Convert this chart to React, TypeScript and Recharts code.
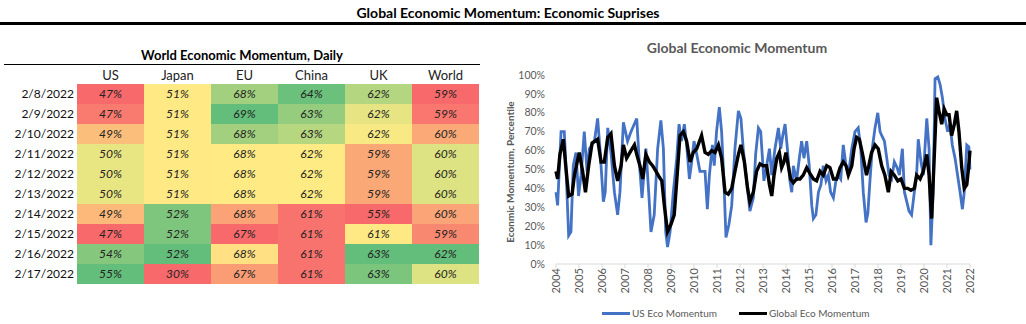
import React from 'react';
import { LineChart, Line, XAxis, YAxis } from 'recharts';

const FONT = "Lato, 'Open Sans', sans-serif";

const pageTitle = 'Global Economic Momentum: Economic Suprises';
const tableTitle = 'World Economic Momentum, Daily';
const chartTitle = 'Global Economic Momentum';
const yAxisTitle = 'Econmic Momentum, Percentile';

const columns = ['US', 'Japan', 'EU', 'China', 'UK', 'World'];
const dates = ['2/8/2022', '2/9/2022', '2/10/2022', '2/11/2022', '2/12/2022', '2/13/2022', '2/14/2022', '2/15/2022', '2/16/2022', '2/17/2022'];
const usCol = [47, 47, 49, 50, 50, 50, 49, 47, 54, 55];
const japanCol = [51, 51, 51, 51, 51, 51, 52, 52, 52, 30];
const euCol = [68, 69, 68, 68, 68, 68, 68, 67, 68, 67];
const chinaCol = [64, 63, 63, 62, 62, 62, 61, 61, 61, 61];
const ukCol = [62, 62, 62, 59, 59, 59, 55, 61, 63, 63];
const worldCol = [59, 59, 60, 60, 60, 60, 60, 59, 62, 60];
const tableCols = [usCol, japanCol, euCol, chinaCol, ukCol, worldCol];

// heat-map fill per cell (style), row by row
const cellColors = [
  ['#F8696B', '#FFE984', '#A2D07F', '#6BC17C', '#B5D680', '#F8696B'],
  ['#F97A6F', '#FFE984', '#63BE7B', '#95CC7E', '#E6E483', '#F9776E'],
  ['#FCBF7B', '#FFE984', '#A2D07F', '#B6D680', '#F8E984', '#FBAA77'],
  ['#E8E583', '#FFE984', '#FFEA84', '#FFEB84', '#FBA877', '#DDE283'],
  ['#E8E583', '#FFE984', '#FFEA84', '#FFEB84', '#FBA877', '#DDE283'],
  ['#E8E583', '#FFE984', '#FFEA84', '#FFEB84', '#FBA877', '#DDE283'],
  ['#FCB97A', '#7EC67D', '#FBA276', '#F8736D', '#F8696B', '#FBA477'],
  ['#F8696B', '#7EC67D', '#F8696B', '#F8736D', '#FFE984', '#F98870'],
  ['#85C87D', '#63BE7B', '#FFE083', '#F8736D', '#63BE7B', '#63BE7B'],
  ['#63BE7B', '#F8696B', '#FA9D75', '#F8736D', '#7CC57D', '#DDE283'],
];

const yearTicks = [2004, 2005, 2006, 2007, 2008, 2009, 2010, 2011, 2012, 2013, 2014, 2015, 2016, 2017, 2018, 2019, 2020, 2021, 2022];
const pctTicks = [0, 10, 20, 30, 40, 50, 60, 70, 80, 90, 100];

const usDates = [
  2004.0, 2004.07, 2004.22, 2004.36, 2004.43, 2004.55, 2004.65, 2004.75, 2004.87, 2004.98,
  2005.09, 2005.23, 2005.35, 2005.45, 2005.67, 2005.81, 2005.91, 2006.06, 2006.14, 2006.25,
  2006.39, 2006.54, 2006.68, 2006.78, 2006.93, 2007.11, 2007.26, 2007.51, 2007.62, 2007.74,
  2007.91, 2008.03, 2008.13, 2008.27, 2008.42, 2008.56, 2008.67, 2008.77, 2008.85, 2008.96,
  2009.1, 2009.25, 2009.35, 2009.46, 2009.58, 2009.68, 2009.8, 2009.9, 2010.0, 2010.12,
  2010.26, 2010.48, 2010.58, 2010.67, 2010.8, 2010.88, 2010.98, 2011.1, 2011.2, 2011.3,
  2011.39, 2011.52, 2011.64, 2011.78, 2011.93, 2012.04, 2012.14, 2012.29, 2012.43, 2012.58,
  2012.68, 2012.8, 2012.9, 2013.04, 2013.16, 2013.28, 2013.38, 2013.52, 2013.67, 2013.77,
  2013.86, 2013.96, 2014.06, 2014.17, 2014.25, 2014.32, 2014.46, 2014.58, 2014.68, 2014.78,
  2014.9, 2015.01, 2015.12, 2015.19, 2015.3, 2015.41, 2015.52, 2015.62, 2015.74, 2015.84,
  2015.94, 2016.06, 2016.17, 2016.28, 2016.38, 2016.49, 2016.61, 2016.71, 2016.86, 2017.0,
  2017.14, 2017.25, 2017.36, 2017.48, 2017.56, 2017.65, 2017.75, 2017.87, 2017.99, 2018.09,
  2018.16, 2018.28, 2018.38, 2018.48, 2018.59, 2018.71, 2018.83, 2018.93, 2019.06, 2019.15,
  2019.25, 2019.35, 2019.46, 2019.58, 2019.68, 2019.75, 2019.87, 2019.97, 2020.12, 2020.22,
  2020.3, 2020.4, 2020.48, 2020.6, 2020.7, 2020.8, 2020.91, 2021.03, 2021.13, 2021.23,
  2021.35, 2021.46, 2021.57, 2021.67, 2021.75, 2021.86, 2021.95, 2022.0,
];
const usValues = [
  38, 31, 70, 70, 52, 15, 17, 52, 59, 36,
  47, 70, 49, 61, 65, 77, 61, 33, 38, 72,
  59, 38, 26, 38, 75, 65, 70, 77, 54, 35,
  61, 38, 17, 26, 61, 76, 61, 17, 9, 17,
  38, 56, 74, 65, 74, 63, 45, 54, 65, 58,
  49, 49, 29, 47, 63, 52, 70, 83, 70, 44,
  14, 21, 31, 61, 81, 77, 61, 44, 28, 35,
  58, 72, 70, 44, 52, 61, 47, 61, 72, 61,
  68, 74, 61, 44, 38, 52, 44, 56, 65, 56,
  65, 52, 31, 24, 26, 38, 42, 52, 44, 47,
  38, 35, 44, 47, 45, 63, 52, 47, 61, 70,
  72, 61, 38, 22, 27, 44, 61, 72, 80, 70,
  68, 65, 56, 47, 45, 54, 51, 47, 61, 38,
  33, 28, 26, 38, 47, 66, 54, 47, 77, 61,
  10, 38, 98, 99, 95, 88, 77, 70, 74, 63,
  56, 47, 38, 29, 38, 63, 62, 50,
];

const globalDates = [
  2004.0, 2004.07, 2004.17, 2004.32, 2004.43, 2004.55, 2004.7, 2004.8, 2005.01, 2005.16,
  2005.28, 2005.42, 2005.57, 2005.81, 2005.96, 2006.1, 2006.25, 2006.39, 2006.54, 2006.68,
  2006.83, 2006.93, 2007.07, 2007.26, 2007.41, 2007.51, 2007.65, 2007.77, 2007.91, 2008.06,
  2008.2, 2008.35, 2008.49, 2008.6, 2008.71, 2008.85, 2009.0, 2009.14, 2009.25, 2009.39,
  2009.54, 2009.68, 2009.83, 2009.97, 2010.12, 2010.33, 2010.48, 2010.62, 2010.77, 2010.91,
  2011.06, 2011.2, 2011.35, 2011.49, 2011.64, 2011.78, 2011.93, 2012.04, 2012.19, 2012.33,
  2012.43, 2012.58, 2012.72, 2012.87, 2013.01, 2013.16, 2013.28, 2013.38, 2013.48, 2013.6,
  2013.71, 2013.81, 2013.91, 2014.0, 2014.1, 2014.2, 2014.32, 2014.46, 2014.61, 2014.75,
  2014.9, 2015.04, 2015.19, 2015.33, 2015.48, 2015.62, 2015.77, 2015.91, 2016.06, 2016.2,
  2016.35, 2016.49, 2016.61, 2016.71, 2016.86, 2016.96, 2017.07, 2017.19, 2017.33, 2017.5,
  2017.6, 2017.72, 2017.87, 2018.01, 2018.16, 2018.3, 2018.45, 2018.57, 2018.71, 2018.86,
  2019.0, 2019.15, 2019.29, 2019.43, 2019.58, 2019.68, 2019.83, 2019.97, 2020.12, 2020.22,
  2020.33, 2020.43, 2020.55, 2020.65, 2020.77, 2020.88, 2020.99, 2021.09, 2021.2, 2021.32,
  2021.42, 2021.52, 2021.64, 2021.75, 2021.86, 2021.93, 2022.0,
];
const globalValues = [
  49, 45, 58, 66, 51, 36, 37, 47, 59, 49,
  38, 52, 64, 66, 54, 54, 67, 69, 52, 44,
  52, 63, 56, 60, 63, 58, 52, 45, 58, 54,
  52, 49, 46, 44, 31, 17, 21, 26, 44, 68,
  70, 65, 54, 59, 61, 68, 59, 58, 60, 59,
  63, 56, 38, 37, 40, 49, 58, 63, 54, 40,
  33, 38, 49, 53, 52, 52, 42, 36, 47, 56,
  59, 51, 54, 59, 52, 45, 43, 45, 45, 47,
  51, 48, 45, 44, 49, 47, 52, 51, 45, 45,
  51, 54, 52, 47, 52, 61, 67, 66, 58, 47,
  52, 59, 63, 61, 52, 47, 38, 49, 47, 44,
  45, 40, 40, 39, 40, 47, 45, 49, 58, 47,
  24, 52, 88, 81, 74, 82, 79, 79, 68, 74,
  81, 70, 51, 40, 42, 50, 60,
];

const usData = usDates.map((t, i) => ({ t, v: usValues[i] }));
const globalData = globalDates.map((t, i) => ({ t, v: globalValues[i] }));

const seriesDefs = [
  { name: 'US Eco Momentum', data: usData, color: '#4472C4', width: 2.8 },
  { name: 'Global Eco Momentum', data: globalData, color: '#000000', width: 3.4 },
];
const legendLeft = [602, 739];

// layout
const CELL_X0 = 77;
const CELL_W = 67;
const ROW_Y0 = 84;
const ROW_H = 20;

const XTick = (props: any) => {
  const { x, y, payload } = props;
  return (
    <text transform={`translate(${x},${y}) rotate(-90)`} textAnchor="end" dy="0.35em" fill="#595959" fontSize={11} fontFamily={FONT}>
      {payload.value}
    </text>
  );
};

const YTick = (props: any) => {
  const { x, y, payload } = props;
  return (
    <text x={x} y={y} textAnchor="end" dy="0.35em" fill="#595959" fontSize={10.5} fontFamily={FONT}>
      {payload.value}%
    </text>
  );
};

export default function App() {
  return (
    <div style={{ position: 'absolute', left: 0, top: 0, width: 1026, height: 324, background: '#fff', fontFamily: FONT, overflow: 'hidden' }}>
      <div style={{ position: 'absolute', left: 0, top: 4, width: 1016, textAlign: 'center', fontWeight: 700, fontSize: 14, color: '#000', lineHeight: '18px' }}>
        {pageTitle}
      </div>
      <div style={{ position: 'absolute', left: 0, top: 22, width: 1026, height: 3, background: '#000' }} />

      {/* table */}
      <div style={{ position: 'absolute', left: 4, top: 46, width: 476, textAlign: 'center', fontWeight: 700, fontSize: 13, color: '#000', lineHeight: '18px' }}>
        {tableTitle}
      </div>
      <div style={{ position: 'absolute', left: 4, top: 64, width: 476, height: 1, background: '#000' }} />
      {columns.map((c, j) => (
        <div key={c} style={{ position: 'absolute', left: CELL_X0 + j * CELL_W, top: 66, width: CELL_W, height: 18, lineHeight: '18px', textAlign: 'center', fontSize: 13, color: '#222' }}>
          {c}
        </div>
      ))}
      {dates.map((d, i) => (
        <div key={d} style={{ position: 'absolute', left: 0, top: ROW_Y0 + i * ROW_H, width: 74, height: ROW_H, lineHeight: `${ROW_H}px`, textAlign: 'right', fontSize: 12, color: '#111' }}>
          {d}
        </div>
      ))}
      {dates.map((d, i) =>
        tableCols.map((col, j) => (
          <div key={`${i}-${j}`} style={{ position: 'absolute', left: CELL_X0 + j * CELL_W, top: ROW_Y0 + i * ROW_H, width: CELL_W, height: ROW_H, lineHeight: `${ROW_H}px`, textAlign: 'center', fontSize: 12, fontStyle: 'italic', color: '#222', background: cellColors[i][j] }}>
            {col[i]}%
          </div>
        ))
      )}

      {/* line chart */}
      <div style={{ position: 'absolute', left: 500, top: 38, width: 474, textAlign: 'center', fontWeight: 700, fontSize: 14, color: '#595959', lineHeight: '20px' }}>
        {chartTitle}
      </div>
      <div style={{ position: 'absolute', left: 510, top: 172, transform: 'translate(-50%, -50%) rotate(-90deg)', whiteSpace: 'nowrap', fontWeight: 700, fontSize: 10, color: '#595959' }}>
        {yAxisTitle}
      </div>
      <div style={{ position: 'absolute', left: 500, top: 30 }}>
        <LineChart width={526} height={294} margin={{ top: 45, right: 56, left: 16, bottom: 0 }}>
          <XAxis
            dataKey="t"
            type="number"
            domain={[2004, 2022]}
            ticks={yearTicks}
            interval={0}
            height={60}
            tick={<XTick />}
            tickSize={4}
            tickMargin={0}
            stroke="#D9D9D9"
            allowDuplicatedCategory={false}
          />
          <YAxis
            type="number"
            domain={[0, 100]}
            ticks={pctTicks}
            interval={0}
            width={40}
            axisLine={false}
            tickLine={false}
            tickSize={0}
            tickMargin={11}
            tick={<YTick />}
          />
          {seriesDefs.map((s) => (
            <Line
              key={s.name}
              data={s.data}
              dataKey="v"
              name={s.name}
              type="linear"
              stroke={s.color}
              strokeWidth={s.width}
              dot={false}
              activeDot={false}
              isAnimationActive={false}
            />
          ))}
        </LineChart>
      </div>
      {seriesDefs.map((s, i) => (
        <div key={s.name} style={{ position: 'absolute', left: legendLeft[i], top: 305, height: 16, display: 'flex', alignItems: 'center', fontSize: 10, color: '#595959', whiteSpace: 'nowrap' }}>
          <div style={{ width: 28, height: 3, background: s.color, marginRight: 2 }} />
          <span>{s.name}</span>
        </div>
      ))}
    </div>
  );
}
